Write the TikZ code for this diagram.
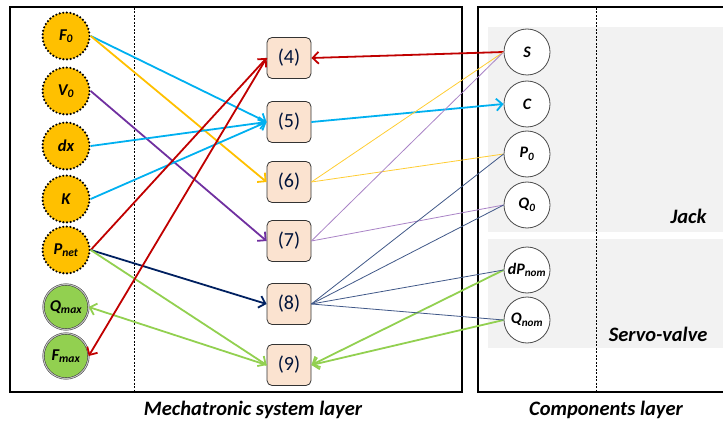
\documentclass[tikz,border=0pt]{standalone}
\usepackage{fontspec}
\setmainfont{Carlito}
\usetikzlibrary{arrows.meta}
\definecolor{parorange}{HTML}{FFC000}
\definecolor{resgreen}{HTML}{92D050}
\definecolor{eqpeach}{HTML}{FBE3D0}
\definecolor{linkblue}{HTML}{00B0F0}
\definecolor{linkred}{HTML}{C00000}
\definecolor{linkpurple}{HTML}{7030A0}
\definecolor{linknavy}{HTML}{002060}
\definecolor{bandgray}{HTML}{F2F2F2}
\tikzset{
  param/.style={circle,fill=parorange,draw=black,line width=2.4pt,line cap=round,
    dash pattern=on 0pt off 3.6pt,minimum size=47pt,inner sep=0pt,
    font=\fontsize{16.5}{18}\selectfont\bfseries\itshape},
  result/.style={circle,fill=resgreen,draw=black!85,double=black!25,double distance=1.2pt,
    minimum size=45pt,inner sep=0pt,font=\fontsize{16.5}{18}\selectfont\bfseries\itshape},
  eqbox/.style={rectangle,rounded corners=5pt,fill=eqpeach,draw=black!80,line width=0.8pt,
    minimum width=44pt,minimum height=41pt,inner sep=0pt,text=linknavy!60!black,
    font=\fontsize{20}{22}\selectfont},
  comp/.style={circle,fill=white,draw=black!70,line width=0.8pt,minimum size=46pt,inner sep=0pt,
    font=\fontsize{16}{18}\selectfont\bfseries\itshape},
  link/.style={line width=1.8pt,-{Straight Barb[length=6pt,width=12pt]}},
  thinlink/.style={line width=0.8pt},
  layer/.style={font=\fontsize{20.5}{23}\selectfont\bfseries\itshape},
}
\begin{document}
\begin{tikzpicture}[x=1pt,y=-1pt]
  \useasboundingbox (0,0) rectangle (723,425);
  % layers
  \fill[bandgray] (488,27) rectangle (723,232);
  \fill[bandgray] (488,239) rectangle (723,348);
  \draw[line width=2.6pt] (10,7) rectangle (462,392);
  \draw[line width=2.6pt] (723,7) -- (478,7) -- (478,392) -- (723,392);
  \draw[line width=0.6pt,dash pattern=on 2pt off 1.5pt] (134,8) -- (134,391);
  \draw[line width=0.6pt,dash pattern=on 2pt off 1.5pt] (596,8) -- (596,391);
  \node[layer,anchor=east] (jack) at (710,216) {Jack};
  \node[layer,anchor=east] (servo) at (711,334) {Servo-valve};
  \node[layer] (mecha) at (253,410) {Mechatronic system layer};
  \node[layer] (compo) at (606,410) {Components layer};
  % parameters and results
  \node[param] (F0) at (66,36) {F\textsubscript{0}};
  \node[param] (V0) at (66,91) {V\textsubscript{0}};
  \node[param] (dx) at (66,146) {dx};
  \node[param] (K) at (66,199) {K};
  \node[param] (Pnet) at (66,250) {P\textsubscript{net}};
  \node[result] (Qmax) at (66,307) {Q\textsubscript{max}};
  \node[result] (Fmax) at (66,356) {F\textsubscript{max}};
  % equations
  \foreach \n/\y in {4/58,5/122,6/182,7/241,8/304,9/365}
    \node[eqbox] (e\n) at (289,\y) {(\n)};
  % components
  \node[comp] (S) at (527,52) {S};
  \node[comp] (C) at (527,104) {C};
  \node[comp] (P0) at (527,154) {P\textsubscript{0}};
  \node[comp] (Q0) at (527,205) {Q\textsubscript{0}};
  \node[comp] (dPnom) at (527,270) {dP\textsubscript{nom}};
  \node[comp] (Qnom) at (527,320) {Q\textsubscript{nom}};
  % links
  \draw[link,linkblue] (F0.east) -- (e5.west);
  \draw[link,parorange] (F0.east) -- (e6.west);
  \draw[link,linkpurple] (V0.east) -- (e7.west);
  \draw[link,linkblue] (dx.east) -- (e5.west);
  \draw[link,linkblue] (K.east) -- (e5.west);
  \draw[link,linkred] (Pnet.east) -- (e4.west);
  \draw[link,linknavy] (Pnet.east) -- (e8.west);
  \draw[link,resgreen] (Pnet.east) -- (e9.west);
  \draw[link,resgreen] (e9.west) -- (Qmax.east);
  \draw[link,linkred] (e4.west) -- (Fmax.east);
  \draw[link,linkred] (S.west) -- (e4.east);
  \draw[link,linkblue] (e5.east) -- (C.west);
  \draw[link,resgreen] (dPnom.west) -- (e9.east);
  \draw[link,resgreen] (Qnom.west) -- (e9.east);
  \draw[thinlink,parorange!80] (e6.east) -- (S.west);
  \draw[thinlink,parorange!80] (e6.east) -- (P0.west);
  \draw[thinlink,linkpurple!60] (e7.east) -- (S.west);
  \draw[thinlink,linkpurple!60] (e7.east) -- (Q0.west);
  \foreach \c in {P0,Q0,dPnom,Qnom}
    \draw[thinlink,linknavy!75] (e8.east) -- (\c.west);
\end{tikzpicture}
\end{document}
